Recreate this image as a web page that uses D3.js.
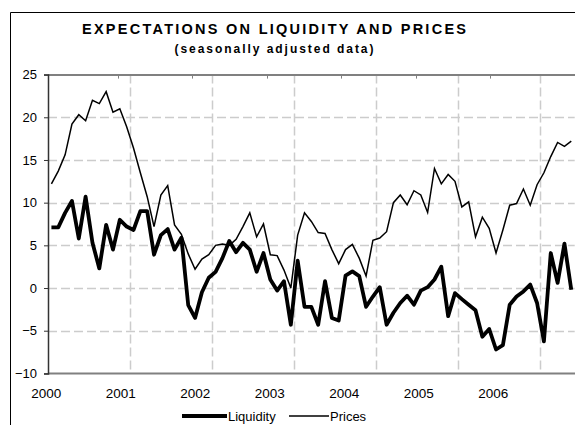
<!DOCTYPE html>
<html>
<head>
<meta charset="utf-8">
<script src="https://cdn.jsdelivr.net/npm/d3@7"></script>
<style>
  body { margin: 0; background: #fff; }
  svg { font-family: "Liberation Sans", Arial, sans-serif; }
</style>
</head>
<body>
<div class="chart"></div>
<script>
// monthly survey balances, Jan 2000 - May 2006
const months = [];
for (let y = 2000; y <= 2006; y++) {
  for (let m = 1; m <= 12; m++) {
    if (y === 2006 && m > 5) break;
    months.push(`${y}-${String(m).padStart(2, "0")}`);
  }
}

const liquidity = [
  7.1, 7.1, 8.8, 10.2, 5.8, 10.7, 5.3, 2.3, 7.4, 4.5, 8.0, 7.2,
  6.8, 9.0, 9.0, 3.9, 6.2, 6.9, 4.5, 5.9, -2.0, -3.5, -0.5, 1.2,
  1.9, 3.5, 5.5, 4.2, 5.3, 4.5, 1.9, 4.1, 1.0, -0.3, 0.8, -4.3,
  3.2, -2.2, -2.2, -4.3, 0.8, -3.5, -3.8, 1.45, 1.95, 1.4, -2.2, -1.0,
  0.1, -4.3, -2.9, -1.75, -0.9, -1.95, -0.3, 0.1, 1.0, 2.5, -3.3, -0.6,
  -1.3, -1.95, -2.6, -5.7, -4.8, -7.2, -6.7, -1.95, -1.0, -0.4, 0.4, -1.75,
  -6.25, 4.1, 0.6, 5.2, -0.2
];

const prices = [
  12.2, 13.7, 15.6, 19.2, 20.3, 19.6, 22.0, 21.6, 23.0, 20.6, 21.0, 18.9,
  16.4, 13.5, 10.7, 7.2, 10.9, 12.0, 7.4, 6.3, 4.0, 2.2, 3.4, 3.9,
  5.0, 5.15, 5.0, 5.7, 7.2, 8.8, 6.0, 7.5, 3.9, 3.8, 2.1, 0.0,
  6.2, 8.8, 7.8, 6.5, 6.4, 4.5, 2.85, 4.5, 5.1, 3.5, 1.4, 5.6,
  5.85, 6.6, 10.0, 10.9, 9.75, 11.4, 10.9, 8.85, 14.0, 12.2, 13.3, 12.5,
  9.5, 10.1, 6.0, 8.3, 7.0, 4.1, 6.8, 9.7, 9.9, 11.6, 9.7, 12.1,
  13.5, 15.4, 17.05, 16.6, 17.2
];

const yearLabels = [2000, 2001, 2002, 2003, 2004, 2005, 2006];
const yTicks = [-10, -5, 0, 5, 10, 15, 20, 25];

const W = 575, H = 425;
const plot = { left: 48, top: 74.6, right: 574.7, bottom: 373.4 };

const svg = d3.select(".chart").append("svg")
    .attr("width", W)
    .attr("height", H);

// outer frame of the chart object
svg.append("path")
    .attr("d", `M10.5,${H} V12.5 H${W}`)
    .attr("fill", "none")
    .attr("stroke", "#000")
    .attr("stroke-width", 1);

// titles
svg.append("text")
    .attr("x", 274)
    .attr("y", 34)
    .attr("text-anchor", "middle")
    .attr("textLength", 384)
    .attr("lengthAdjust", "spacing")
    .style("font-size", "14.5px")
    .style("font-weight", "bold")
    .text("EXPECTATIONS ON LIQUIDITY AND PRICES");

svg.append("text")
    .attr("x", 274)
    .attr("y", 53)
    .attr("text-anchor", "middle")
    .attr("textLength", 199)
    .attr("lengthAdjust", "spacing")
    .style("font-size", "12px")
    .style("font-weight", "bold")
    .text("(seasonally adjusted data)");

const x = d3.scaleBand()
    .domain(months)
    .range([plot.left, plot.right])
    .padding(0);

const y = d3.scaleLinear()
    .domain([-10, 25])
    .range([plot.bottom, plot.top]);

// year labels sit on their own scale (they don't line up with the gridlines)
const xLabel = d3.scaleLinear()
    .domain([2000, 2007])
    .range([46.3, 567.8]);

const grid = "#cccccc";

// horizontal gridlines
svg.append("g")
    .selectAll("line")
    .data(yTicks.filter(d => d > -10 && d < 25))
    .enter().append("line")
    .attr("x1", plot.left)
    .attr("x2", plot.right)
    .attr("y1", d => Math.round(y(d)) + 0.5)
    .attr("y2", d => Math.round(y(d)) + 0.5)
    .attr("stroke", grid)
    .attr("stroke-width", 1.5)
    .attr("stroke-dasharray", "9,4");

// vertical gridlines at each January
svg.append("g")
    .selectAll("line")
    .data(months.filter((m, i) => i > 0 && m.endsWith("-01")))
    .enter().append("line")
    .attr("x1", d => Math.round(x(d)) + 0.5)
    .attr("x2", d => Math.round(x(d)) + 0.5)
    .attr("y1", plot.top)
    .attr("y2", plot.bottom)
    .attr("stroke", grid)
    .attr("stroke-width", 1.5)
    .attr("stroke-dasharray", "9,4");

// top and bottom frame lines
svg.append("line")
    .attr("x1", plot.left).attr("x2", W)
    .attr("y1", plot.top + 0.5).attr("y2", plot.top + 0.5)
    .attr("stroke", "#808080").attr("stroke-width", 2);
svg.append("line")
    .attr("x1", plot.left).attr("x2", W)
    .attr("y1", plot.bottom).attr("y2", plot.bottom)
    .attr("stroke", "#808080").attr("stroke-width", 2);

// small ticks under the top line
svg.append("g")
    .selectAll("line")
    .data(yearLabels.slice(1))
    .enter().append("line")
    .attr("x1", d => Math.round(xLabel(d)) - 2.5)
    .attr("x2", d => Math.round(xLabel(d)) - 2.5)
    .attr("y1", plot.top)
    .attr("y2", plot.top + 4)
    .attr("stroke", "#808080");

// y axis
const yAxis = svg.append("g")
    .attr("transform", `translate(${plot.left},0)`)
    .call(d3.axisLeft(y).tickValues(yTicks).tickSize(4).tickPadding(7));
yAxis.select(".domain").attr("stroke", "#333").attr("stroke-width", 1.5);
yAxis.selectAll(".tick line").attr("stroke", "#333");
yAxis.selectAll(".tick text")
    .style("font-size", "13px")
    .attr("fill", "#000");

// year labels
svg.append("g")
    .selectAll("text")
    .data(yearLabels)
    .enter().append("text")
    .attr("x", d => xLabel(d))
    .attr("y", 398)
    .attr("text-anchor", "middle")
    .style("font-size", "13.5px")
    .text(d => d);

// series
const line = d3.line()
    .x((d, i) => x(months[i]) + x.bandwidth() / 2)
    .y(d => y(d));

svg.append("path")
    .datum(prices)
    .attr("fill", "none")
    .attr("stroke", "#000")
    .attr("stroke-width", 1.5)
    .attr("stroke-linejoin", "miter")
    .attr("d", line);

svg.append("path")
    .datum(liquidity)
    .attr("fill", "none")
    .attr("stroke", "#000")
    .attr("stroke-width", 3.8)
    .attr("stroke-linejoin", "round")
    .attr("d", line);

// legend
const legend = [
  { name: "Liquidity", width: 4, x0: 182, x1: 227 },
  { name: "Prices", width: 1.5, x0: 289, x1: 329 }
];
const lg = svg.append("g");
legend.forEach(d => {
  lg.append("line")
      .attr("x1", d.x0).attr("x2", d.x1)
      .attr("y1", 416).attr("y2", 416)
      .attr("stroke", "#000")
      .attr("stroke-width", d.width);
  lg.append("text")
      .attr("x", d.x1 + 1)
      .attr("y", 421)
      .style("font-size", "13px")
      .text(d.name);
});
</script>
</body>
</html>
